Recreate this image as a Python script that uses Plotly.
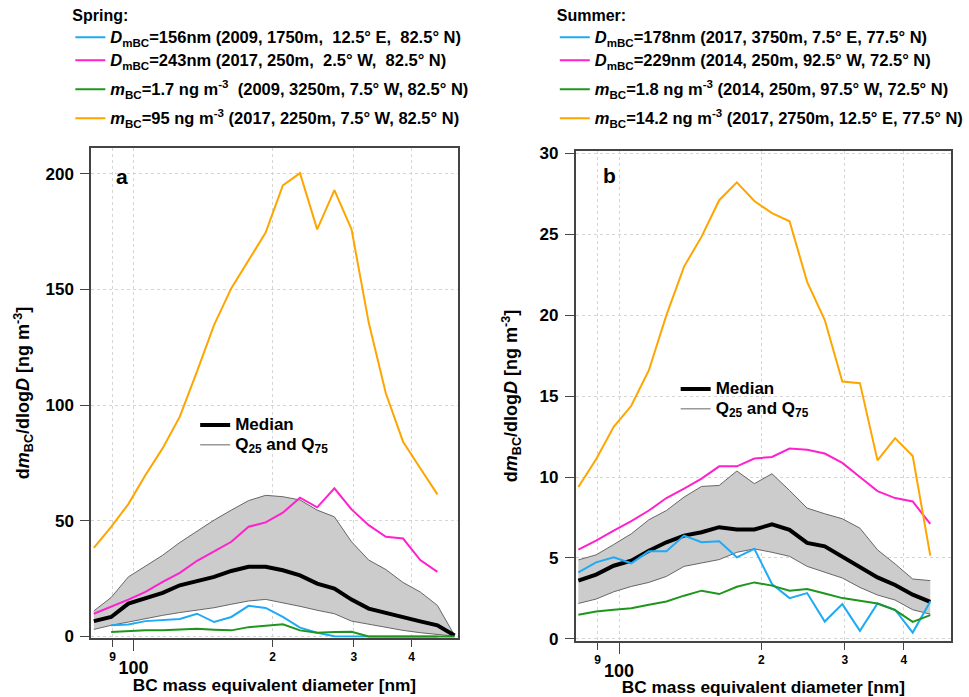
import plotly.graph_objects as go

# Bin diameters [nm]
diam = [82.0, 89.4, 97.4, 106.1, 115.6, 125.9, 137.2, 149.4, 162.8, 177.4, 193.2,
        210.5, 229.3, 249.8, 272.2, 296.5, 323.0, 351.9, 383.4, 417.7, 455.0, 495.7]
diam_b = diam[:21]

# Spring (panel a)
spring_blue = [None, 4.8, 5.1, 6.6, 7.2, 7.5, 9.8, 6.2, 8.4, 13.2, 12.3, 8.4, 3.8, 1.6, 0.1,
               0, 0, 0, 0, 0, 0, None]
spring_magenta = [9.8, 12.7, 15.9, 19.2, 23.6, 27.5, 32.7, 36.8, 40.9, 47.4, 49.3, 53.5, 60,
                  55.8, 64, 54.9, 48.1, 43.1, 42.3, 33, 27.9, None]
spring_green = [None, 1.9, 2.3, 2.6, 2.6, 2.9, 3.3, 2.9, 2.6, 4.0, 4.6, 5.2, 2.6, 1.6, 1.9,
                2.0, 0, 0, 0, 0, 0, 0]
spring_orange = [38.3, 47.4, 57.2, 69.8, 81.4, 95.0, 114.6, 134.7, 150.6, 162.8, 174.6, 195,
                 200.3, 176, 193, 176, 135.7, 105, 84.2, 72.7, 61.4, None]
spring_median = [6.6, 8.4, 14.2, 16.3, 18.8, 22.1, 23.8, 25.7, 28.3, 30.1, 30.1, 28.6, 26.4,
                 22.8, 20.7, 15.9, 12.0, 10.1, 8.1, 6.5, 4.8, 0.4]
spring_q75 = [11, 16.8, 25.7, 30.5, 35.1, 40.6, 45.5, 50.3, 54.6, 58.7, 61, 60.4, 59, 54.6,
              51.7, 40.9, 33, 28.9, 23.3, 19.2, 13.4, 0.4]
spring_q25 = [3.0, 4.8, 6.2, 7.7, 9.1, 10.3, 11.3, 12.4, 13.9, 15.3, 16.0, 14.6, 13.0, 11.3,
              9.8, 6.6, 5.2, 3.8, 2.6, 1.6, 0.9, 0.1]

# Summer (panel b)
summer_blue = [4.11, 4.73, 5.04, 4.67, 5.41, 5.41, 6.38, 5.97, 6.03, 5.04, 5.56, 3.39, 2.52,
               2.83, 1.07, 2.15, 0.5, 2.19, 1.8, 0.39, 2.31]
summer_magenta = [5.52, 6.07, 6.69, 7.27, 7.93, 8.7, 9.28, 9.9, 10.66, 10.66, 11.14, 11.24,
                  11.76, 11.69, 11.45, 10.87, 10.0, 9.13, 8.7, 8.49, 7.1]
summer_green = [1.49, 1.69, 1.8, 1.9, 2.11, 2.31, 2.67, 2.98, 2.77, 3.22, 3.49, 3.29, 2.98,
                3.08, 2.81, 2.52, 2.36, 2.19, 1.78, 1.05, 1.47]
summer_orange = [9.38, 11.1, 13.1, 14.4, 16.6, 20.0, 23.0, 24.85, 27.1, 28.2, 27.05, 26.3,
                 25.8, 22.06, 19.7, 15.9, 15.8, 11.03, 12.4, 11.3, 5.14]
summer_median = [3.6, 3.97, 4.52, 4.83, 5.45, 5.97, 6.38, 6.59, 6.9, 6.76, 6.76, 7.07, 6.74,
                 5.93, 5.72, 5.1, 4.42, 3.8, 3.33, 2.73, 2.29]
summer_q75 = [4.88, 5.19, 5.83, 6.49, 7.36, 7.93, 8.76, 9.42, 9.48, 10.37, 9.59, 10.2, 9.17,
              8.08, 7.73, 7.42, 6.84, 5.5, 4.63, 3.7, 3.6]
summer_q25 = [2.19, 2.46, 2.91, 3.24, 3.49, 3.86, 4.48, 4.67, 4.9, 5.35, 5.56, 5.35, 5.1,
              4.48, 4.11, 3.76, 3.18, 2.71, 2.4, 1.8, 1.53]

spring_names = [
    "<i>D</i><sub>mBC</sub>=156nm (2009, 1750m,  12.5° E,  82.5° N)",
    "<i>D</i><sub>mBC</sub>=243nm (2017, 250m,  2.5° W,  82.5° N)",
    "<i>m</i><sub>BC</sub>=1.7 ng m<sup>-3</sup>  (2009, 3250m, 7.5° W, 82.5° N)",
    "<i>m</i><sub>BC</sub>=95 ng m<sup>-3</sup> (2017, 2250m, 7.5° W, 82.5° N)",
]
summer_names = [
    "<i>D</i><sub>mBC</sub>=178nm (2017, 3750m, 7.5° E, 77.5° N)",
    "<i>D</i><sub>mBC</sub>=229nm (2014, 250m, 92.5° W, 72.5° N)",
    "<i>m</i><sub>BC</sub>=1.8 ng m<sup>-3</sup> (2014, 250m, 97.5° W, 72.5° N)",
    "<i>m</i><sub>BC</sub>=14.2 ng m<sup>-3</sup> (2017, 2750m, 12.5° E, 77.5° N)",
]

xtickvals = [90, 200, 300, 400]
xticktext = ["9", "2", "3", "4"]
xmajor_vals = [100]
xmajor_text = ["100"]
ytick_a = [0, 50, 100, 150, 200]
ytick_b = [0, 5, 10, 15, 20, 25, 30]

colors = ["#1EAAF5", "#FF22CC", "#1E961E", "#FFA500"]
FONT = "Liberation Sans, Arial, sans-serif"


def big(t, size):
    return "<span style='font-size:%spx'>%s</span>" % (size, t)


fig = go.Figure()


def add_panel(xs, q25, q75, med, series, names, xa, ya, leg_series, leg_stats, grp):
    fig.add_trace(go.Scatter(x=xs, y=q25, mode="lines", line=dict(color="#666666", width=1),
                             name=big("Q<sub>25</sub> and Q<sub>75</sub>", 17),
                             legend=leg_stats, legendrank=2, xaxis=xa, yaxis=ya,
                             hoverinfo="skip"))
    fig.add_trace(go.Scatter(x=xs, y=q75, mode="lines", line=dict(color="#666666", width=1),
                             fill="tonexty", fillcolor="#CCCCCC", showlegend=False,
                             xaxis=xa, yaxis=ya, hoverinfo="skip"))
    fig.add_trace(go.Scatter(x=xs, y=med, mode="lines", line=dict(color="black", width=4),
                             name=big("Median", 17), legend=leg_stats, legendrank=1,
                             xaxis=xa, yaxis=ya))
    groups = [grp + "1", grp + "1", grp + "2", grp + "3"]
    for ys, nm, c, g in zip(series, names, colors, groups):
        fig.add_trace(go.Scatter(x=xs, y=ys, mode="lines", line=dict(color=c, width=2),
                                 name=big(nm, 16.5), legend=leg_series, legendgroup=g,
                                 xaxis=xa, yaxis=ya, connectgaps=False))


add_panel(diam, spring_q25, spring_q75, spring_median,
          [spring_blue, spring_magenta, spring_green, spring_orange], spring_names,
          "x", "y", "legend", "legend3", "sp")
add_panel(diam_b, summer_q25, summer_q75, summer_median,
          [summer_blue, summer_magenta, summer_green, summer_orange], summer_names,
          "x2", "y2", "legend2", "legend4", "su")
# empty traces to attach the overlaid "100" major-tick axes
fig.add_trace(go.Scatter(x=[], y=[], xaxis="x3", yaxis="y", showlegend=False))
fig.add_trace(go.Scatter(x=[], y=[], xaxis="x4", yaxis="y2", showlegend=False))

W, H = 969, 697


def px(v):
    return v / W


def py(v):
    return 1 - v / H


XR = [1.908, 2.702]
grid = dict(showgrid=True, gridcolor="#D5D5D5", griddash="dot", gridwidth=1)
xaxis_common = dict(
    type="log", range=XR, tickmode="array", tickvals=xtickvals, ticktext=xticktext,
    ticks="outside", ticklen=7, tickcolor="#444", tickwidth=1.2,
    showline=True, linecolor="#444", linewidth=1.5, mirror=True,
    tickfont=dict(family=FONT, size=12, color="black", weight="bold"),
    title=dict(text="BC mass equivalent diameter [nm]",
               font=dict(family=FONT, size=17.3, color="black", weight="bold"), standoff=16),
    zeroline=False, automargin=False, **grid,
)
xmajor_common = dict(
    type="log", range=XR, tickmode="array", tickvals=xmajor_vals, ticktext=xmajor_text,
    ticks="outside", ticklen=12, tickcolor="#444", tickwidth=1.2, showline=False,
    tickfont=dict(family=FONT, size=18, color="black", weight="bold"),
    ticklabelstandoff=1, zeroline=False, automargin=False, **grid,
)
yaxis_common = dict(
    ticks="outside", ticklen=9, tickcolor="#444", tickwidth=1.2,
    showline=True, linecolor="#444", linewidth=1.5, mirror=True,
    tickfont=dict(family=FONT, size=17, color="black", weight="bold"),
    ticklabelstandoff=3, zeroline=False, automargin=False, **grid,
)
ytitle = "d<i>m</i><sub>BC</sub>/dlog<i>D</i> [ng m<sup>-3</sup>]"
ytitle_font = dict(family=FONT, size=18, color="black", weight="bold")

fig.update_layout(
    width=W, height=H, margin=dict(l=0, r=0, t=0, b=0),
    paper_bgcolor="white", plot_bgcolor="white",
    font=dict(family=FONT, color="black", weight="bold"),
    xaxis=dict(xaxis_common, domain=[px(92), px(462)], anchor="y"),
    yaxis=dict(yaxis_common, domain=[py(638), py(148)], range=[-0.7, 211.2],
               tickvals=ytick_a, anchor="x",
               title=dict(text=ytitle, font=ytitle_font, standoff=11)),
    xaxis2=dict(xaxis_common, domain=[px(581), px(960)], anchor="y2"),
    yaxis2=dict(yaxis_common, domain=[py(641), py(151)], range=[-0.13, 30.14],
                tickvals=ytick_b, anchor="x2",
                title=dict(text=ytitle, font=ytitle_font, standoff=17)),
    xaxis3=dict(xmajor_common, overlaying="x", anchor="y", side="bottom",
                domain=[px(92), px(462)]),
    xaxis4=dict(xmajor_common, overlaying="x2", anchor="y2", side="bottom",
                domain=[px(581), px(960)]),
    legend=dict(x=px(71), y=py(0), xanchor="left", yanchor="top", bgcolor="rgba(0,0,0,0)",
                title=dict(text="Spring:", font=dict(family=FONT, size=16, weight="bold")),
                font=dict(family=FONT, size=15.4, color="black", weight="bold"),
                traceorder="grouped", tracegroupgap=6, itemwidth=30),
    legend2=dict(x=px(560), y=py(0), xanchor="left", yanchor="top", bgcolor="rgba(0,0,0,0)",
                 title=dict(text="Summer:", font=dict(family=FONT, size=16, weight="bold")),
                 font=dict(family=FONT, size=15.4, color="black", weight="bold"),
                 traceorder="grouped", tracegroupgap=6, itemwidth=30),
    legend3=dict(x=px(197), y=py(410), xanchor="left", yanchor="top", bgcolor="rgba(0,0,0,0)",
                 font=dict(family=FONT, size=13, color="black", weight="bold"), itemwidth=30,
                 tracegroupgap=0),
    legend4=dict(x=px(682), y=py(374), xanchor="left", yanchor="top", bgcolor="rgba(0,0,0,0)",
                 font=dict(family=FONT, size=13, color="black", weight="bold"), itemwidth=30,
                 tracegroupgap=0),
    showlegend=True,
)

fig.add_annotation(text="a", x=0.084, y=0.941, xref="x domain", yref="y domain",
                   xanchor="center", yanchor="middle", showarrow=False,
                   font=dict(family=FONT, size=21, color="black", weight="bold"))
fig.add_annotation(text="b", x=0.09, y=0.949, xref="x2 domain", yref="y2 domain",
                   xanchor="center", yanchor="middle", showarrow=False,
                   font=dict(family=FONT, size=21, color="black", weight="bold"))

fig.write_html("out.html", config={"displayModeBar": False},
               post_script="document.body.style.margin='0';")
